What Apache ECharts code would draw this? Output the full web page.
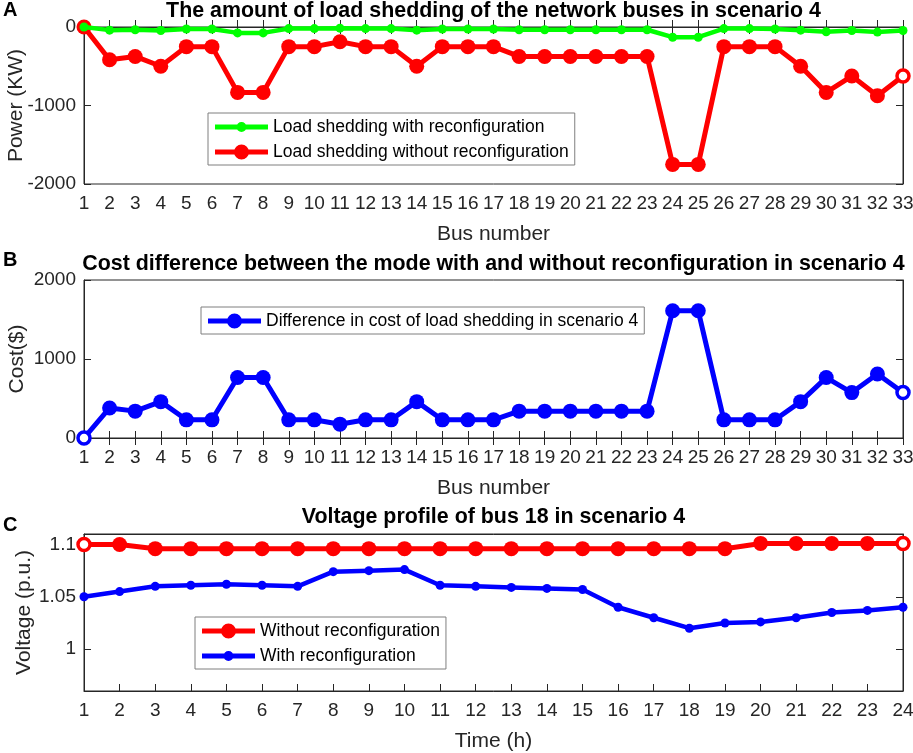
<!DOCTYPE html>
<html>
<head>
<meta charset="utf-8">
<script src="https://cdn.jsdelivr.net/npm/echarts@6/dist/echarts.min.js"></script>
<style>
html,body{margin:0;padding:0;background:#fff;}
#chart{width:913px;height:753px;}
</style>
</head>
<body>
<div id="chart"></div>
<script>
// ---------- DATA ----------
const busNumbers = [1,2,3,4,5,6,7,8,9,10,11,12,13,14,15,16,17,18,19,20,21,22,23,24,25,26,27,28,29,30,31,32,33];
const shedWithReconfig = [0,-40,-35,-45,-25,-25,-75,-75,-20,-20,-15,-20,-20,-40,-25,-25,-25,-35,-35,-35,-35,-35,-35,-130,-130,-20,-20,-25,-40,-60,-45,-65,-45];
const shedWithoutReconfig = [0,-417,-375,-500,-250,-250,-833,-833,-250,-250,-188,-250,-250,-500,-250,-250,-250,-375,-375,-375,-375,-375,-375,-1750,-1750,-250,-250,-250,-500,-833,-625,-875,-625];
const costDifference = [0,380,340,460,230,230,765,765,230,230,175,230,230,460,230,230,230,340,340,340,340,340,340,1610,1610,230,230,230,460,765,575,810,575];
const hours = [1,2,3,4,5,6,7,8,9,10,11,12,13,14,15,16,17,18,19,20,21,22,23,24];
const voltWithoutReconfig = [1.1,1.1,1.096,1.096,1.096,1.096,1.096,1.096,1.096,1.096,1.096,1.096,1.096,1.096,1.096,1.096,1.096,1.096,1.096,1.101,1.101,1.101,1.101,1.101];
const voltWithReconfig = [1.05,1.055,1.06,1.061,1.062,1.061,1.06,1.074,1.075,1.076,1.061,1.06,1.059,1.058,1.057,1.04,1.03,1.02,1.025,1.026,1.03,1.035,1.037,1.04];
const powerTicks = [-2000,-1000,0];
const costTicks = [0,1000,2000];
const voltTicks = [1,1.05,1.1];

const titles = [
  'The amount of load shedding of the network buses in scenario 4',
  'Cost difference between the mode with and without reconfiguration in scenario 4',
  'Voltage profile of bus 18 in scenario 4'
];
const names = {
  a1: 'Load shedding with reconfiguration',
  a2: 'Load shedding without reconfiguration',
  b1: 'Difference in cost of load shedding in scenario 4',
  c1: 'Without reconfiguration',
  c2: 'With reconfiguration'
};

// ---------- STYLE ----------
const FONT = "'Liberation Sans', Arial, Helvetica, sans-serif";
const TXT = '#262626';
const RED = '#ff0000', GREEN = '#00ff00', BLUE = '#0000ff';
const plain = v => String(v);

// legend icon: line + marker of given radius inside a 53x16 box
function legendIcon(r) {
  const w = 53, h = 16, cx = w / 2, cy = h / 2;
  return 'path://' +
    'M0 0 h0.01 v0.01 Z M' + (w - 0.01) + ' ' + (h - 0.01) + ' h0.01 v0.01 Z ' +
    'M0 ' + (cy - 2.5) + ' H' + w + ' V' + (cy + 2.5) + ' H0 Z ' +
    'M' + (cx - r) + ' ' + cy + ' A' + r + ' ' + r + ' 0 1 1 ' + (cx + r) + ' ' + cy +
    ' A' + r + ' ' + r + ' 0 1 1 ' + (cx - r) + ' ' + cy + ' Z';
}

function pairs(xs, ys, hollowIdx, color) {
  return ys.map((v, i) => {
    const item = { value: [xs[i], v] };
    if (hollowIdx.indexOf(i) >= 0) {
      item.itemStyle = { color: '#ffffff', borderColor: color, borderWidth: 3.5 };
      item.symbolSize = 12;
    }
    return item;
  });
}

const grids = [
  { left: 84, top: 27, width: 819, height: 157 },
  { left: 84, top: 280, width: 819, height: 158 },
  { left: 84, top: 534, width: 819, height: 157 }
];

function xAxisBottom(gi, xs, name) {
  return {
    type: 'value', gridIndex: gi, min: xs[0], max: xs[xs.length - 1], interval: 1,
    position: 'bottom',
    name: name, nameLocation: 'middle', nameGap: 40, nameMoveOverlap: false,
    nameTextStyle: { fontFamily: FONT, fontSize: 21, color: TXT },
    axisLine: { show: true, lineStyle: { color: TXT, width: 1 } },
    axisTick: { show: true, inside: true, length: 7, lineStyle: { color: TXT } },
    axisLabel: { fontFamily: FONT, fontSize: 19, color: TXT, margin: 10, formatter: plain, hideOverlap: false },
    splitLine: { show: false }
  };
}
function xAxisTop(gi, xs, ticks) {
  return {
    type: 'value', gridIndex: gi, min: xs[0], max: xs[xs.length - 1], interval: 1,
    position: 'top',
    axisLine: { show: true, lineStyle: { color: TXT, width: 1 } },
    axisTick: { show: ticks, inside: true, length: 7, lineStyle: { color: TXT } },
    axisLabel: { show: false }, splitLine: { show: false }
  };
}
function yAxisLeft(gi, ticks, min, max, name, gap) {
  return {
    type: 'value', gridIndex: gi, min: min, max: max, position: 'left',
    name: name, nameLocation: 'middle', nameGap: gap, nameRotate: 90, nameMoveOverlap: false,
    nameTextStyle: { fontFamily: FONT, fontSize: 21, color: TXT },
    axisLine: { show: true, lineStyle: { color: TXT, width: 1 } },
    axisTick: { show: true, inside: true, length: 7, lineStyle: { color: TXT }, customValues: ticks },
    axisLabel: { fontFamily: FONT, fontSize: 19, color: TXT, margin: 8, customValues: ticks, formatter: plain },
    splitLine: { show: false }
  };
}
function yAxisRight(gi, ticks, min, max) {
  return {
    type: 'value', gridIndex: gi, min: min, max: max, position: 'right',
    axisLine: { show: true, lineStyle: { color: TXT, width: 1 } },
    axisTick: { show: true, inside: true, length: 7, lineStyle: { color: TXT }, customValues: ticks },
    axisLabel: { show: false, customValues: ticks },
    splitLine: { show: false }
  };
}

const titleBase = { textStyle: { fontFamily: FONT, fontSize: 21.4, fontWeight: 'bold', color: '#000' }, padding: 0, textAlign: 'center', left: 493.5 };
const letterBase = { textStyle: { fontFamily: FONT, fontSize: 20, fontWeight: 'bold', color: '#000' }, padding: 0, left: 3 };

const legendBase = {
  orient: 'vertical',
  borderColor: '#7f7f7f', borderWidth: 1, backgroundColor: '#ffffff',
  itemWidth: 53, itemHeight: 16, itemGap: 7,
  textStyle: { fontFamily: FONT, fontSize: 17.5, color: '#000' },
  padding: [5, 6, 4, 7]
};

const option = {
  animation: false,
  backgroundColor: '#ffffff',
  title: [
    Object.assign({}, titleBase, { text: titles[0], top: 1 }),
    Object.assign({}, titleBase, { text: titles[1], top: 254 }),
    Object.assign({}, titleBase, { text: titles[2], top: 507 }),
    Object.assign({}, letterBase, { text: 'A', top: 0 }),
    Object.assign({}, letterBase, { text: 'B', top: 250 }),
    Object.assign({}, letterBase, { text: 'C', top: 515 })
  ],
  legend: [
    Object.assign({}, legendBase, { data: [{ name: names.a1, icon: legendIcon(5) }, { name: names.a2, icon: legendIcon(7.5) }], left: 208, top: 113 }),
    Object.assign({}, legendBase, { data: [{ name: names.b1, icon: legendIcon(7.5) }], left: 201, top: 307 }),
    Object.assign({}, legendBase, { data: [{ name: names.c1, icon: legendIcon(7.5) }, { name: names.c2, icon: legendIcon(5) }], left: 195, top: 617 })
  ],
  grid: grids.map(g => Object.assign({ show: true, borderColor: TXT, borderWidth: 1, containLabel: false, outerBoundsMode: 'none' }, g)),
  xAxis: [
    xAxisBottom(0, busNumbers, 'Bus number'), xAxisTop(0, busNumbers, true),
    xAxisBottom(1, busNumbers, 'Bus number'), xAxisTop(1, busNumbers, true),
    xAxisBottom(2, hours, 'Time (h)'), xAxisTop(2, hours, false)
  ],
  yAxis: [
    yAxisLeft(0, powerTicks, -2000, 0, 'Power (KW)', 57), yAxisRight(0, powerTicks, -2000, 0),
    yAxisLeft(1, costTicks, 0, 2000, 'Cost($)', 56), yAxisRight(1, costTicks, 0, 2000),
    yAxisLeft(2, voltTicks, 0.96, 1.11, 'Voltage (p.u.)', 49), yAxisRight(2, voltTicks, 0.96, 1.11)
  ],
  series: [
    {
      name: names.a1, type: 'line', xAxisIndex: 0, yAxisIndex: 0, z: 4,
      data: pairs(busNumbers, shedWithReconfig, [], GREEN),
      symbol: 'circle', symbolSize: 9,
      lineStyle: { color: GREEN, width: 4.5 }, itemStyle: { color: GREEN }
    },
    {
      name: names.a2, type: 'line', xAxisIndex: 0, yAxisIndex: 0, z: 3,
      data: pairs(busNumbers, shedWithoutReconfig, [32], RED),
      symbol: 'circle', symbolSize: 15,
      lineStyle: { color: RED, width: 5 }, itemStyle: { color: RED }
    },
    {
      name: names.b1, type: 'line', xAxisIndex: 2, yAxisIndex: 2,
      data: pairs(busNumbers, costDifference, [0, 32], BLUE),
      symbol: 'circle', symbolSize: 15,
      lineStyle: { color: BLUE, width: 5 }, itemStyle: { color: BLUE }
    },
    {
      name: names.c1, type: 'line', xAxisIndex: 4, yAxisIndex: 4,
      data: pairs(hours, voltWithoutReconfig, [0, 23], RED),
      symbol: 'circle', symbolSize: 15,
      lineStyle: { color: RED, width: 5 }, itemStyle: { color: RED }
    },
    {
      name: names.c2, type: 'line', xAxisIndex: 4, yAxisIndex: 4,
      data: pairs(hours, voltWithReconfig, [], BLUE),
      symbol: 'circle', symbolSize: 9,
      lineStyle: { color: BLUE, width: 4.5 }, itemStyle: { color: BLUE }
    }
  ]
};

const chart = echarts.init(document.getElementById('chart'), null, { renderer: 'canvas' });
chart.setOption(option);
</script>
</body>
</html>
